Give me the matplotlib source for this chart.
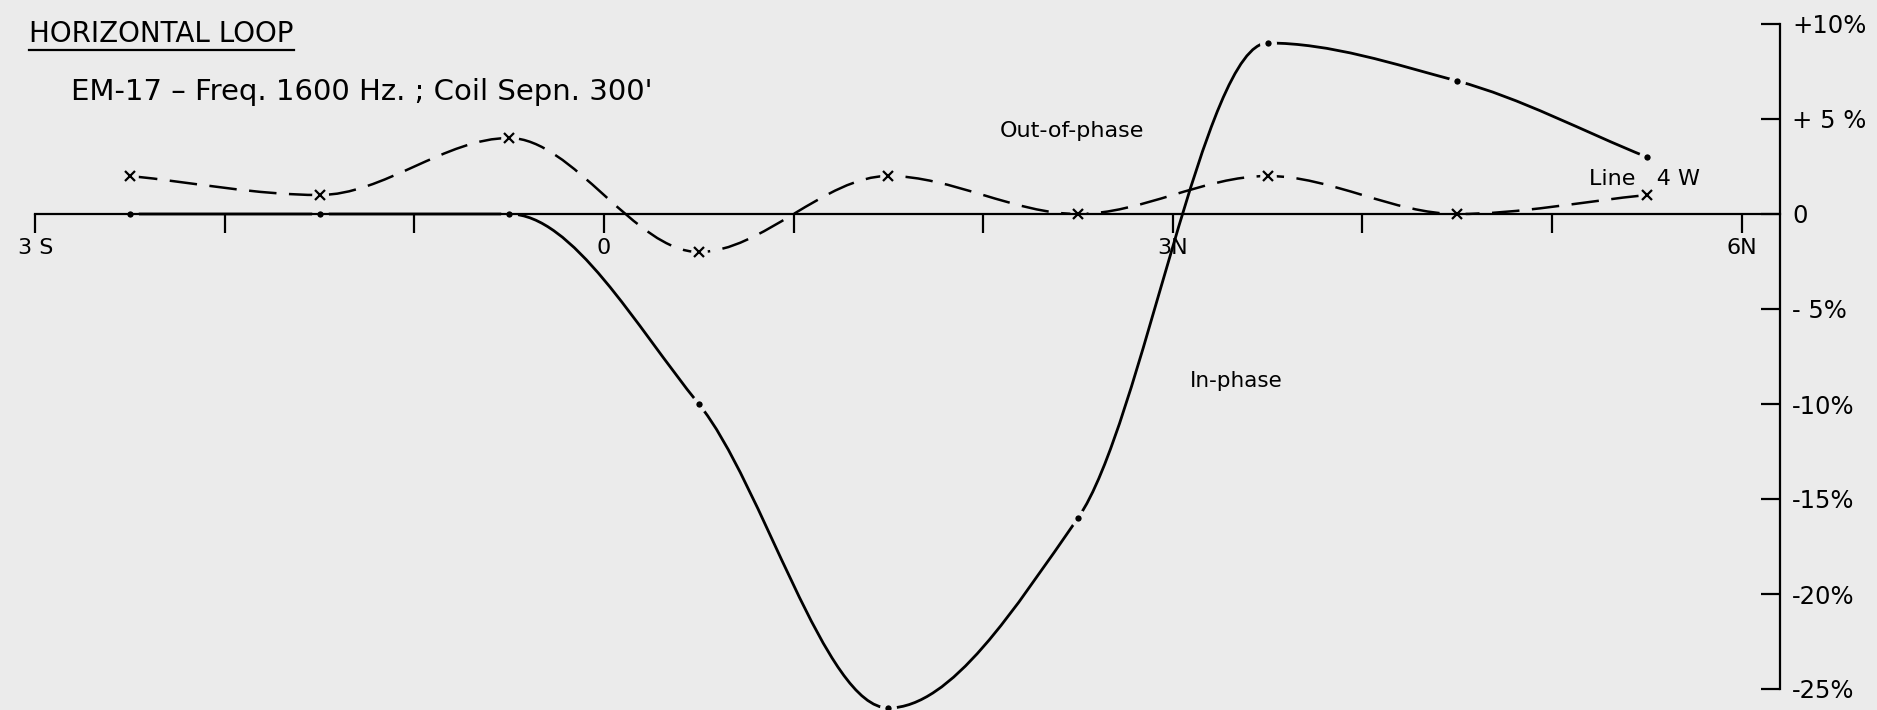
import numpy as np
import matplotlib
matplotlib.use('Agg')
import matplotlib.pyplot as plt
from matplotlib.path import Path
from matplotlib.patches import PathPatch
from matplotlib.lines import Line2D

# EM-17 horizontal loop survey, Line 4 W (station in 100' units, S negative)
STATIONS = [-2.5, -1.5, -0.5, 0.5, 1.5, 2.5, 3.5, 4.5, 5.5]
IN_PHASE = [0, 0, 0, -10, -26, -16, 9, 7, 3]
OUT_OF_PHASE = [2, 1, 4, -2, 2, 0, 2, 0, 1]

X_TICKS = [-3, -2, -1, 0, 1, 2, 3, 4, 5, 6]
X_TICK_LABELS = ['3 S', '', '', '0', '', '', '3N', '', '', '6N']
Y_TICKS = [10, 5, 0, -5, -10, -15, -20, -25]
Y_TICK_LABELS = ['+10%', '+ 5 %', '0', '- 5%', '-10%', '-15%', '-20%', '-25%']

W, H = 1877, 710
BG = '#ebebeb'
AXIS_X = 6.2  # where the percent scale stands


def smooth_path(x, y):
    """Shape-preserving cubic (pchip) through the points, as a bezier path."""
    x = np.asarray(x, float)
    y = np.asarray(y, float)
    h = np.diff(x)
    delta = np.diff(y) / h
    d = np.zeros_like(y)
    d[0], d[-1] = delta[0], delta[-1]
    for k in range(1, len(x) - 1):
        if delta[k - 1] * delta[k] > 0:
            w1 = 2 * h[k] + h[k - 1]
            w2 = h[k] + 2 * h[k - 1]
            d[k] = (w1 + w2) / (w1 / delta[k - 1] + w2 / delta[k])
    verts = [(x[0], y[0])]
    codes = [Path.MOVETO]
    for k in range(len(x) - 1):
        verts += [(x[k] + h[k] / 3, y[k] + d[k] * h[k] / 3),
                  (x[k + 1] - h[k] / 3, y[k + 1] - d[k + 1] * h[k] / 3),
                  (x[k + 1], y[k + 1])]
        codes += [Path.CURVE4] * 3
    return Path(verts, codes)


fig = plt.figure(figsize=(W / 100, H / 100), dpi=100)
fig.patch.set_facecolor(BG)
ax = fig.add_axes([0, 0, 1, 1])
ax.set_facecolor(BG)
ax.set_xlim(-604 / 189.6, (W - 604) / 189.6)
ax.set_ylim((214 - H) / 19.0, 214 / 19.0)

# curves
ax.add_patch(PathPatch(smooth_path(STATIONS, IN_PHASE), fill=False,
                       edgecolor='black', lw=2.0, zorder=2))
ax.add_patch(PathPatch(smooth_path(STATIONS, OUT_OF_PHASE), fill=False,
                       edgecolor='black', lw=1.8, linestyle=(0, (11, 5)), zorder=2))

# station marks, with a little gap in the line round each one
ax.plot(STATIONS, IN_PHASE, 'o', ms=8.4, mfc='black', mec=BG, mew=3.8, zorder=2.2)
ax.plot(STATIONS, OUT_OF_PHASE, 'o', ms=12, mfc=BG, mec='none', zorder=2.1)
ax.plot(STATIONS, OUT_OF_PHASE, 'x', ms=7.5, mec='black', mew=1.6, zorder=2.2)

# axes
for s in ['left', 'top']:
    ax.spines[s].set_visible(False)
ax.spines['bottom'].set_position(('data', 0))
ax.spines['bottom'].set_bounds(-3, AXIS_X)
ax.spines['right'].set_position(('data', AXIS_X))
ax.spines['right'].set_bounds(-25, 10)
for s in ['bottom', 'right']:
    ax.spines[s].set_linewidth(1.6)
ax.xaxis.set_ticks_position('bottom')
ax.yaxis.set_ticks_position('right')
ax.set_xticks(X_TICKS, X_TICK_LABELS)
ax.set_yticks(Y_TICKS, Y_TICK_LABELS)
ax.tick_params(axis='x', direction='out', length=14, width=1.6, pad=3, labelsize=16)
ax.tick_params(axis='y', direction='in', length=14, width=1.6, pad=9, labelsize=17.5)

# annotations
title = fig.text(29 / W, 1 - 42 / H, 'HORIZONTAL LOOP', fontsize=20, va='baseline')
fig.text(71 / W, 1 - 100 / H, "EM-17 – Freq. 1600 Hz. ; Coil Sepn. 300'", fontsize=21, va='baseline')
fig.text(1000 / W, 1 - 137 / H, 'Out-of-phase', fontsize=16, va='baseline')
fig.text(1190 / W, 1 - 387 / H, 'In-phase', fontsize=15.5, va='baseline')
fig.text(1589 / W, 1 - 185 / H, 'Line   4 W', fontsize=16, va='baseline')

fig.canvas.draw()
bb = title.get_window_extent(fig.canvas.get_renderer())
fig.add_artist(Line2D([bb.x0 / W, bb.x1 / W], [1 - 50 / H] * 2,
                      transform=fig.transFigure, color='black', lw=1.6))

fig.savefig('out.png', dpi=100, facecolor=BG)
